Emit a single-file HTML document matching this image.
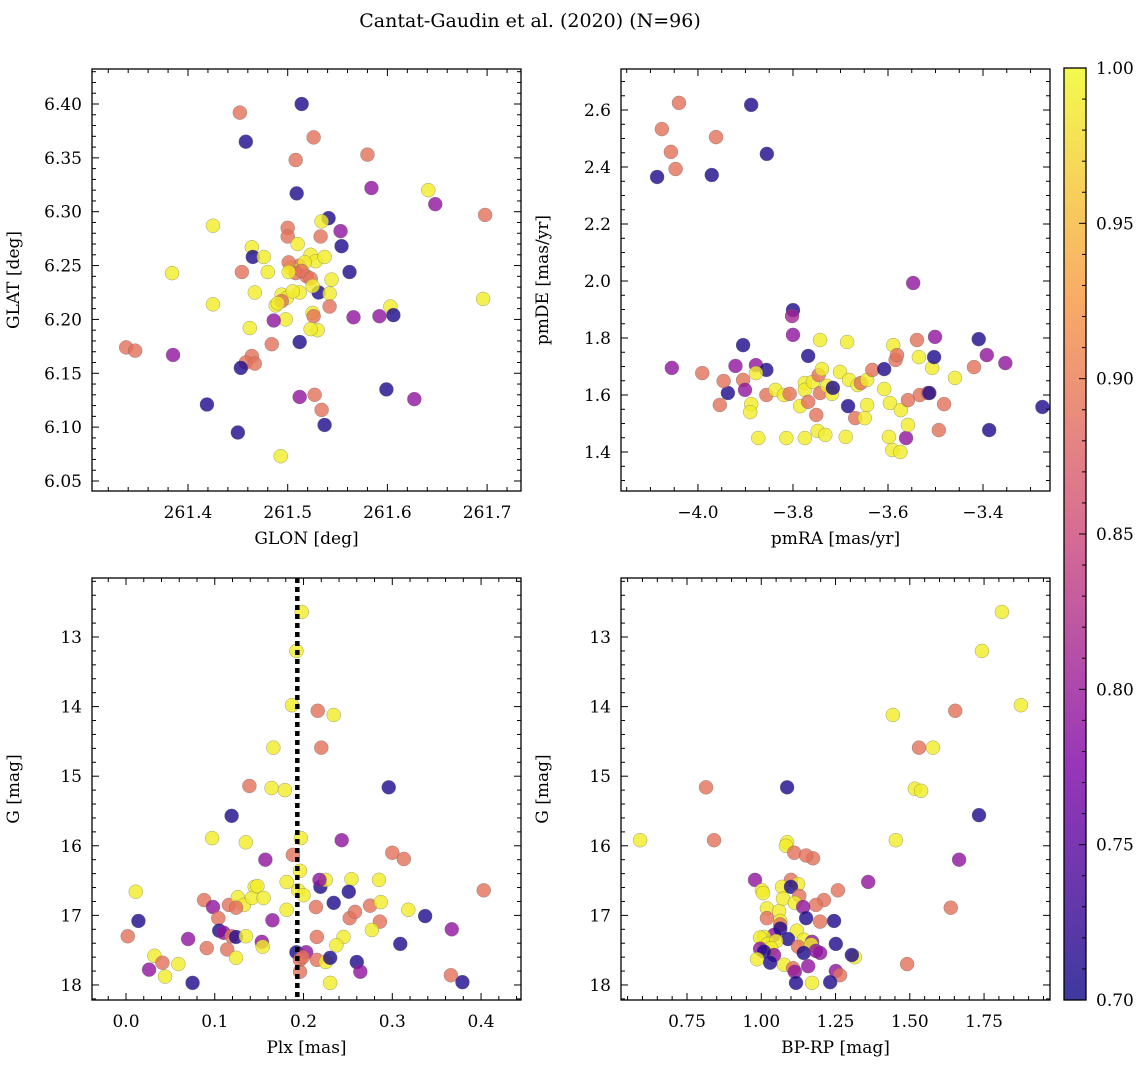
<!DOCTYPE html>
<html><head><meta charset="utf-8"><style>
body{margin:0;background:#fff;}
svg text{font-family:"DejaVu Serif","Liberation Serif",serif;fill:#000;}
</style></head><body>
<svg id="c" width="1148" height="1068" xmlns="http://www.w3.org/2000/svg">
<text x="530" y="27" font-size="19" text-anchor="middle">Cantat-Gaudin et al. (2020) (N=96)</text>
</svg>
<script>
// Panel 1: GLON vs GLAT
const p1x=[261.452,261.514,261.458,261.526,261.580,261.508,261.584,261.641,261.648,261.698,261.509,261.541,261.534,261.425,261.553,261.500,261.533,261.500,261.464,261.554,261.510,261.465,261.476,261.384,261.454,261.480,261.562,261.523,261.528,261.537,261.512,261.517,261.503,261.501,261.508,261.519,261.514,261.523,261.501,261.467,261.512,261.494,261.499,261.531,261.542,261.544,261.542,261.525,261.505,261.425,261.603,261.488,261.494,261.490,261.525,261.526,261.530,261.523,261.498,261.462,261.486,261.566,261.592,261.606,261.696,261.338,261.347,261.385,261.464,261.458,261.467,261.453,261.484,261.512,261.419,261.450,261.493,261.512,261.527,261.534,261.537,261.599,261.627];
const p1y=[6.392,6.400,6.365,6.369,6.353,6.348,6.322,6.320,6.307,6.297,6.317,6.294,6.291,6.287,6.282,6.285,6.277,6.277,6.267,6.268,6.270,6.258,6.258,6.243,6.244,6.244,6.244,6.260,6.254,6.258,6.250,6.253,6.248,6.253,6.243,6.240,6.245,6.238,6.244,6.225,6.225,6.223,6.220,6.225,6.224,6.237,6.212,6.231,6.226,6.214,6.212,6.213,6.217,6.215,6.206,6.203,6.190,6.191,6.200,6.192,6.199,6.202,6.203,6.204,6.219,6.174,6.171,6.167,6.166,6.160,6.159,6.155,6.177,6.179,6.121,6.095,6.073,6.128,6.130,6.116,6.102,6.135,6.126];
const p1p=[0.89,0.71,0.71,0.89,0.89,0.89,0.79,0.99,0.79,0.89,0.71,0.71,0.99,0.99,0.79,0.89,0.89,0.89,0.99,0.71,0.99,0.71,0.99,0.99,0.89,0.99,0.71,0.99,0.99,0.99,0.89,0.99,0.99,0.89,0.89,0.89,0.89,0.89,0.99,0.99,0.99,0.99,0.99,0.71,0.99,0.99,0.89,0.99,0.99,0.99,0.99,0.99,0.89,0.99,0.99,0.89,0.99,0.99,0.99,0.99,0.79,0.79,0.79,0.71,0.99,0.89,0.89,0.79,0.89,0.89,0.89,0.71,0.89,0.71,0.71,0.71,0.99,0.79,0.89,0.89,0.71,0.71,0.79];
// Panel 2: pmRA vs pmDE
const p2x=[-4.076,-4.040,-4.057,-4.047,-3.962,-4.086,-3.888,-3.971,-3.855,-3.547,-3.800,-3.802,-3.800,-3.905,-3.743,-3.768,-4.055,-3.991,-3.921,-3.878,-3.856,-3.878,-3.905,-3.901,-3.937,-3.946,-3.954,-3.888,-3.890,-3.856,-3.837,-3.819,-3.807,-3.775,-3.775,-3.758,-3.743,-3.728,-3.746,-3.739,-3.718,-3.716,-3.785,-3.768,-3.751,-3.748,-3.732,-3.814,-3.775,-3.873,-3.686,-3.701,-3.682,-3.664,-3.684,-3.669,-3.657,-3.644,-3.633,-3.644,-3.649,-3.689,-3.608,-3.608,-3.596,-3.598,-3.591,-3.574,-3.589,-3.584,-3.581,-3.573,-3.562,-3.558,-3.558,-3.539,-3.535,-3.533,-3.516,-3.513,-3.507,-3.503,-3.501,-3.493,-3.482,-3.459,-3.419,-3.409,-3.392,-3.387,-3.353,-3.275];
const p2y=[2.533,2.625,2.453,2.393,2.505,2.365,2.618,2.372,2.446,1.993,1.898,1.877,1.811,1.775,1.793,1.737,1.695,1.677,1.702,1.705,1.688,1.677,1.653,1.618,1.607,1.649,1.565,1.568,1.540,1.600,1.618,1.600,1.604,1.642,1.618,1.646,1.607,1.632,1.670,1.691,1.604,1.625,1.561,1.576,1.530,1.474,1.460,1.449,1.449,1.449,1.786,1.681,1.653,1.635,1.561,1.519,1.642,1.653,1.688,1.565,1.519,1.453,1.691,1.621,1.572,1.453,1.407,1.400,1.775,1.723,1.740,1.547,1.449,1.495,1.582,1.793,1.733,1.600,1.607,1.607,1.695,1.733,1.804,1.477,1.568,1.660,1.698,1.796,1.740,1.477,1.712,1.558];
const p2p=[0.89,0.89,0.89,0.89,0.89,0.71,0.71,0.71,0.71,0.79,0.71,0.81,0.79,0.71,0.99,0.71,0.79,0.89,0.79,0.79,0.71,0.99,0.89,0.79,0.71,0.89,0.89,0.99,0.99,0.89,0.99,0.99,0.89,0.99,0.99,0.99,0.89,0.99,0.89,0.99,0.99,0.71,0.99,0.89,0.89,0.99,0.99,0.99,0.99,0.99,0.99,0.99,0.99,0.99,0.71,0.89,0.89,0.99,0.89,0.99,0.99,0.99,0.71,0.99,0.99,0.99,0.99,0.99,0.99,0.89,0.89,0.99,0.79,0.99,0.89,0.89,0.99,0.89,0.89,0.71,0.99,0.71,0.79,0.89,0.89,0.99,0.89,0.71,0.79,0.71,0.79,0.71];
// Panel 3: Plx vs G
const p3x=[0.198,0.192,0.187,0.216,0.234,0.166,0.220,0.139,0.164,0.179,0.296,0.119,0.097,0.197,0.135,0.243,0.300,0.313,0.157,0.188,0.196,0.181,0.219,0.225,0.218,0.254,0.285,0.251,0.403,0.145,0.194,0.200,0.181,0.214,0.234,0.275,0.287,0.318,0.337,0.286,0.252,0.258,0.277,0.011,0.088,0.098,0.116,0.126,0.133,0.142,0.148,0.155,0.124,0.104,0.014,0.105,0.110,0.119,0.124,0.135,0.165,0.215,0.245,0.070,0.002,0.091,0.114,0.124,0.153,0.154,0.237,0.192,0.203,0.196,0.199,0.215,0.225,0.230,0.260,0.309,0.367,0.032,0.041,0.059,0.026,0.044,0.075,0.196,0.264,0.230,0.366,0.379];
const p3y=[12.64,13.20,13.98,14.06,14.12,14.59,14.59,15.14,15.17,15.20,15.16,15.57,15.89,15.89,15.95,15.92,16.10,16.19,16.20,16.13,16.36,16.52,16.59,16.49,16.49,16.48,16.49,16.66,16.64,16.59,16.64,16.71,16.92,16.88,16.82,16.86,16.81,16.92,17.01,17.09,17.04,16.95,17.21,16.66,16.78,16.88,16.85,16.74,16.85,16.75,16.58,16.75,16.89,17.04,17.08,17.22,17.25,17.30,17.31,17.30,17.07,17.31,17.31,17.34,17.30,17.47,17.49,17.61,17.38,17.45,17.43,17.53,17.53,17.64,17.60,17.64,17.67,17.61,17.67,17.41,17.20,17.58,17.68,17.70,17.78,17.88,17.97,17.81,17.81,17.97,17.86,17.96];
const p3p=[0.99,0.99,0.99,0.89,0.99,0.99,0.89,0.89,0.99,0.99,0.71,0.71,0.99,0.99,0.99,0.79,0.89,0.89,0.79,0.89,0.99,0.99,0.71,0.99,0.79,0.99,0.99,0.71,0.89,0.99,0.99,0.99,0.99,0.89,0.71,0.89,0.99,0.99,0.71,0.89,0.89,0.89,0.99,0.99,0.89,0.79,0.89,0.99,0.99,0.99,0.99,0.99,0.89,0.89,0.71,0.71,0.79,0.89,0.71,0.99,0.79,0.89,0.99,0.79,0.89,0.89,0.89,0.99,0.79,0.99,0.99,0.71,0.79,0.89,0.89,0.89,0.99,0.71,0.71,0.71,0.79,0.99,0.89,0.99,0.79,0.99,0.71,0.89,0.79,0.99,0.89,0.71];
const plxMarker=[0.193];
// Panel 4: BP-RP vs G
const p4x=[1.810,1.743,1.874,1.653,1.443,1.531,1.578,0.814,1.087,1.517,1.538,1.733,0.592,0.841,1.087,1.453,1.083,1.111,1.174,1.151,1.666,0.979,1.100,1.124,1.360,1.002,1.006,1.070,1.100,1.258,1.128,1.073,1.113,1.211,1.184,1.141,1.019,1.060,1.064,1.638,1.019,1.064,1.151,1.198,1.245,1.043,1.064,1.120,1.090,1.143,1.009,0.996,1.022,1.050,1.033,1.171,1.124,1.168,1.251,1.143,1.184,1.198,1.043,0.996,1.009,1.315,1.305,0.986,1.030,1.077,1.107,1.158,1.113,1.251,1.265,1.117,1.171,1.232,1.491];
const p4y=[12.64,13.20,13.98,14.06,14.12,14.59,14.59,15.16,15.16,15.18,15.21,15.56,15.92,15.92,15.95,15.92,16.00,16.10,16.18,16.14,16.20,16.49,16.49,16.55,16.52,16.64,16.68,16.59,16.59,16.64,16.72,16.76,16.82,16.78,16.85,16.88,16.90,16.94,17.08,16.89,17.04,17.13,17.04,17.09,17.08,17.28,17.19,17.22,17.34,17.35,17.31,17.32,17.41,17.37,17.47,17.38,17.45,17.42,17.41,17.54,17.51,17.54,17.57,17.48,17.52,17.60,17.57,17.63,17.68,17.71,17.76,17.73,17.81,17.80,17.86,17.97,17.97,17.96,17.70];
const p4p=[0.99,0.99,0.99,0.89,0.99,0.89,0.99,0.89,0.71,0.99,0.99,0.71,0.99,0.89,0.99,0.99,0.99,0.89,0.89,0.89,0.79,0.79,0.89,0.99,0.79,0.99,0.99,0.99,0.71,0.89,0.89,0.99,0.99,0.89,0.89,0.79,0.99,0.99,0.99,0.89,0.89,0.89,0.71,0.89,0.71,0.79,0.71,0.99,0.71,0.99,0.99,0.99,0.99,0.99,0.99,0.79,0.89,0.99,0.71,0.71,0.79,0.79,0.79,0.79,0.71,0.99,0.71,0.99,0.71,0.99,0.89,0.79,0.79,0.79,0.89,0.71,0.99,0.71,0.89];
const cbTicks=[0.70,0.75,0.80,0.85,0.90,0.95,1.00];

const NS="http://www.w3.org/2000/svg";
const svg=document.getElementById('c');
function mk(tag,attrs,parent){const e=document.createElementNS(NS,tag);for(const k in attrs)e.setAttribute(k,attrs[k]);(parent||svg).appendChild(e);return e;}
const stops=[[13,8,135],[126,3,168],[204,71,120],[248,149,64],[240,249,33]];
function plasma(t){t=Math.max(0,Math.min(1,t));const s=t*4,i=Math.min(3,Math.floor(s)),f=s-i;const a=stops[i],b=stops[i+1];return `rgb(${a.map((v,k)=>Math.round(v+(b[k]-v)*f)).join(',')})`;}
function pc(p){return plasma((p-0.7)/0.3);}

function panel(name,box,xr,yr,inv,xt,xmin,yt,ymin,xlab,ylab,xs,ys,ps,xfmt,yfmt){
  const [L,T,R,B]=box;
  const g=mk('g',{});
  
  
  const sx=v=>L+(v-xr[0])/(xr[1]-xr[0])*(R-L);
  const sy=inv?(v=>T+(v-yr[0])/(yr[1]-yr[0])*(B-T)):(v=>B-(v-yr[0])/(yr[1]-yr[0])*(B-T));
  const clip='cl'+name;
  const cp=mk('clipPath',{id:clip},g);mk('rect',{x:L,y:T,width:R-L,height:B-T},cp);
  const pts=mk('g',{'clip-path':`url(#${clip})`},g);
  
  
  for(let i=0;i<xs.length;i++){
    const c=mk('circle',{cx:sx(xs[i]),cy:sy(ys[i]),r:7,fill:pc(ps[i]),'fill-opacity':0.8,stroke:'#666','stroke-opacity':0.6,'stroke-width':0.5},pts);
    
    
  }
  mk('rect',{x:L,y:T,width:R-L,height:B-T,fill:'none',stroke:'#000','stroke-width':1.3},g);
  const eps=1e-9;
  const xlo=Math.min(...xr),xhi=Math.max(...xr),ylo=Math.min(...yr),yhi=Math.max(...yr);
  for(let v=Math.ceil(xlo/xmin-eps)*xmin;v<=xhi+eps;v+=xmin){
    const X=sx(v),maj=Math.abs(v/xt-Math.round(v/xt))<1e-6,l=maj?7:4;
    mk('line',{x1:X,x2:X,y1:B,y2:B-l,stroke:'#000','stroke-width':1},g);
    mk('line',{x1:X,x2:X,y1:T,y2:T+l,stroke:'#000','stroke-width':1},g);
    if(maj){const t=mk('text',{x:X,y:B+27,'font-size':17,'text-anchor':'middle'},g);t.textContent=xfmt(v);}
  }
  for(let v=Math.ceil(ylo/ymin-eps)*ymin;v<=yhi+eps;v+=ymin){
    const Y=sy(v),maj=Math.abs(v/yt-Math.round(v/yt))<1e-6,l=maj?7:4;
    mk('line',{x1:L,x2:L+l,y1:Y,y2:Y,stroke:'#000','stroke-width':1},g);
    mk('line',{x1:R,x2:R-l,y1:Y,y2:Y,stroke:'#000','stroke-width':1},g);
    if(maj){const t=mk('text',{x:L-10,y:Y+6,'font-size':17,'text-anchor':'end'},g);t.textContent=yfmt(v);}
  }
  const xl=mk('text',{x:(L+R)/2,y:B+53,'font-size':17,'text-anchor':'middle'},g);xl.textContent=xlab;
  
  const yc=(T+B)/2,yx=L-73;
  const yl=mk('text',{x:yx,y:yc,'font-size':17,'text-anchor':'middle',transform:`rotate(-90 ${yx} ${yc})`},g);yl.textContent=ylab;
  
  return {g,sx,sy,T,B};
}
const f1=v=>v.toFixed(1),f2=v=>v.toFixed(2),f0=v=>v.toFixed(0);
const mf=v=>(v<0?'\u2212':'')+Math.abs(v).toFixed(1);
panel('panel-glon-glat',[92,69,521,491],[261.3037,261.734],[6.0407,6.4325],false,0.1,0.02,0.05,0.01,'GLON [deg]','GLAT [deg]',p1x,p1y,p1p,f1,f2);
panel('panel-pm',[621,69,1050,491],[-4.162,-3.259],[1.2632,2.7439],false,0.2,0.05,0.2,0.05,'pmRA [mas/yr]','pmDE [mas/yr]',p2x,p2y,p2p,mf,f1);
const P3=panel('panel-plx-g',[92,578,521,1000],[-0.0383,0.445],[12.152,18.216],true,0.1,0.02,1,0.2,'Plx [mas]','G [mag]',p3x,p3y,p3p,f1,f0);
const dl=mk('line',{x1:P3.sx(plxMarker[0]),x2:P3.sx(plxMarker[0]),y1:P3.T,y2:P3.B,stroke:'#000','stroke-width':4.5,'stroke-dasharray':'5 4'},P3.g);


panel('panel-cmd',[621,578,1050,1000],[0.5278,1.972],[12.152,18.216],true,0.25,0.05,1,0.2,'BP-RP [mag]','G [mag]',p4x,p4y,p4p,f2,f0);

// colorbar
const cb=mk('g',{});


const CL=1064,CR=1086,CT=68,CB=1000;
const grad=mk('linearGradient',{id:'cbg',x1:0,y1:1,x2:0,y2:0},cb);
for(let i=0;i<=20;i++){mk('stop',{offset:i/20,'stop-color':plasma(i/20),'stop-opacity':0.8},grad);}
mk('rect',{x:CL,y:CT,width:CR-CL,height:CB-CT,fill:'url(#cbg)',stroke:'#000','stroke-width':1.3},cb);
const cy=v=>CB-(v-0.7)/0.3*(CB-CT);
for(let v=0.70;v<=1.0001;v+=0.01){const Y=cy(v),maj=Math.abs(v*20-Math.round(v*20))<1e-6;mk('line',{x1:CR,x2:CR-(maj?7:4),y1:Y,y2:Y,stroke:'#000','stroke-width':1},cb);}
cbTicks.forEach(v=>{const t=mk('text',{x:CR+10,y:cy(v)+6,'font-size':17},cb);t.textContent=v.toFixed(2);});
</script>
</body></html>
